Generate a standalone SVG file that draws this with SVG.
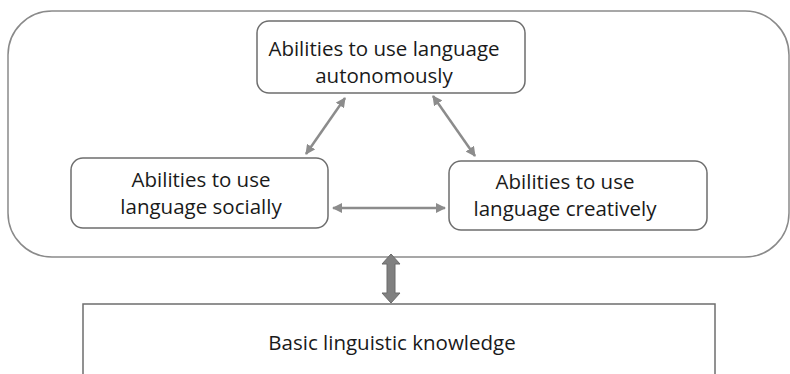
<svg xmlns="http://www.w3.org/2000/svg" width="790" height="374" viewBox="0 0 790 374">
  <style>
    .box { fill: #ffffff; stroke: #6e6e6e; stroke-width: 1.5; }
    .frame { fill: #ffffff; stroke: #8a8a8a; stroke-width: 1.5; }
    .lbl { font-family: "Open Sans", "Liberation Sans", sans-serif; font-size: 20.5px; fill: #1a1a1a; text-anchor: middle; }
    .link { stroke: #8c8c8c; stroke-width: 2.5; fill: none; marker-start: url(#head); marker-end: url(#head); }
  </style>
  <defs>
    <marker id="head" viewBox="0 0 10 10" refX="9" refY="5" markerWidth="4" markerHeight="4" orient="auto-start-reverse" markerUnits="strokeWidth">
      <path d="M0,0 L10,5 L0,10 z" fill="#8c8c8c"/>
    </marker>
  </defs>

  <!-- enclosing frame for the three ability nodes -->
  <rect id="frame" class="frame" x="8" y="11" width="781" height="246" rx="44" ry="44"/>

  <g id="connectors">
    <line class="link" x1="306" y1="154" x2="345" y2="98"/>
    <line class="link" x1="433" y1="96" x2="475" y2="156"/>
    <line class="link" x1="333" y1="208" x2="445" y2="208"/>
    <!-- thick two-way arrow between the frame and the knowledge box -->
    <path d="M391,254 L400,264 L395,264 L395,293 L400,293 L391,303 L382,293 L387,293 L387,264 L382,264 Z" fill="#808080" stroke="#6a6a6a" stroke-width="1"/>
  </g>

  <g id="node-autonomously">
    <rect class="box" x="257" y="21" width="268" height="72" rx="12" ry="12"/>
    <text class="lbl" x="384" y="56">Abilities to use language</text>
    <text class="lbl" x="384" y="83">autonomously</text>
  </g>

  <g id="node-socially">
    <rect class="box" x="71" y="158" width="257" height="70" rx="12" ry="12"/>
    <text class="lbl" x="201" y="187">Abilities to use</text>
    <text class="lbl" x="201" y="214">language socially</text>
  </g>

  <g id="node-creatively">
    <rect class="box" x="449" y="161" width="258" height="69" rx="12" ry="12"/>
    <text class="lbl" x="565" y="189">Abilities to use</text>
    <text class="lbl" x="565" y="216">language creatively</text>
  </g>

  <g id="node-knowledge">
    <rect class="box" x="83" y="304" width="632" height="90"/>
    <text class="lbl" x="392" y="350">Basic linguistic knowledge</text>
  </g>
</svg>
